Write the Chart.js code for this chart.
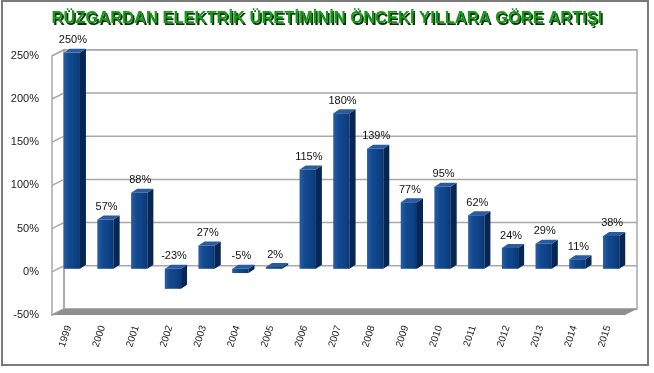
<!DOCTYPE html>
<html>
<head>
<meta charset="utf-8">
<script src="https://cdn.jsdelivr.net/npm/chart.js@4.4.1/dist/chart.umd.min.js"></script>
<style>
  html, body { margin: 0; padding: 0; background: #fff; }
  #wrap { width: 654px; height: 373px; position: relative; }
</style>
</head>
<body>
<div id="wrap"><canvas id="ruzgar" width="654" height="373"></canvas></div>
<script>

var years = ["1999", "2000", "2001", "2002", "2003", "2004", "2005", "2006", "2007",
	"2008", "2009", "2010", "2011", "2012", "2013", "2014", "2015"];
var artis = [250, 57, 88, -23, 27, -5, 2, 115, 180, 139, 77, 95, 62, 24, 29, 11, 38];
var yMin = -50, yMax = 250, yStep = 50;
var baslik = "RÜZGARDAN ELEKTRİK ÜRETİMİNİN ÖNCEKİ YILLARA GÖRE ARTIŞI";
var baslikFont = 'bold 16.5px "Liberation Sans", Arial, sans-serif';

// walls, floor and grid of the 3d look
var duvar = {
	id: 'duvar',
	beforeDraw: function(chart){
		var c = chart.ctx;
		c.save();
		// frame round the picture
		c.strokeStyle = '#7a7a7a';
		c.lineWidth = 2;
		c.strokeRect(2, 1, 646, 364);
		// shadow of the title
		var tb = chart.titleBlock;
		if (tb) {
			c.font = baslikFont;
			c.textAlign = 'center';
			c.textBaseline = 'middle';
			c.fillStyle = '#0a330a';
			c.fillText(baslik, (tb.left + tb.right) / 2 + 1.5, tb.top + 9 + 9.9 + 1.5);
		}
		c.restore();
	},
	beforeDatasetsDraw: function(chart){
		var c = chart.ctx, a = chart.chartArea, y = chart.scales.y;
		var L = a.left, R = a.right;
		var top = y.getPixelForValue(yMax), bot = y.getPixelForValue(yMin);
		c.save();
		// left wall
		c.fillStyle = '#ffffff';
		c.strokeStyle = '#a8a8a8';
		c.lineWidth = 1.5;
		c.beginPath();
		c.moveTo(L - 3, top + 3); c.lineTo(L + 9, top - 3);
		c.lineTo(L + 9, bot - 3); c.lineTo(L - 3, bot + 3);
		c.closePath();
		c.fill(); c.stroke();
		// back wall
		c.strokeRect(L + 9, top - 3, R - L, bot - top);
		// grid lines
		for (var v = yMin; v <= yMax; v += yStep) {
			var p = y.getPixelForValue(v);
			c.beginPath();
			c.moveTo(L - 3, p + 3);
			c.lineTo(L + 9, p - 3);
			c.lineTo(R + 9, p - 3);
			c.stroke();
		}
		// floor
		c.fillStyle = '#8f8f8f';
		c.beginPath();
		c.moveTo(L - 3, bot + 3); c.lineTo(R - 3, bot + 3);
		c.lineTo(R + 9, bot - 3); c.lineTo(L + 9, bot - 3);
		c.closePath();
		c.fill();
		c.restore();
	},
	afterDatasetsDraw: function(chart){
		var c = chart.ctx;
		var meta = chart.getDatasetMeta(0);
		var dx = 6, dy = 4;
		c.save();
		meta.data.forEach(function(bar, i){
			var w = bar.width;
			var l = bar.x - w / 2, r = bar.x + w / 2;
			var t = Math.min(bar.y, bar.base), b = Math.max(bar.y, bar.base);
			// light on the front face
			var g = c.createLinearGradient(l, 0, r, 0);
			g.addColorStop(0, 'rgba(70,120,190,0.5)');
			g.addColorStop(0.35, 'rgba(70,120,190,0.1)');
			g.addColorStop(1, 'rgba(0,20,60,0.25)');
			c.fillStyle = g;
			c.fillRect(l, t, w, b - t);
			// side face
			c.fillStyle = '#062654';
			c.beginPath();
			c.moveTo(r, t); c.lineTo(r + dx, t - dy);
			c.lineTo(r + dx, b - dy); c.lineTo(r, b);
			c.closePath(); c.fill();
			// top face
			c.fillStyle = '#2a5b9f';
			c.beginPath();
			c.moveTo(l, t); c.lineTo(r, t);
			c.lineTo(r + dx, t - dy); c.lineTo(l + dx, t - dy);
			c.closePath(); c.fill();
			// value
			c.fillStyle = '#111';
			c.font = '11px "Liberation Sans", Arial, sans-serif';
			c.textAlign = 'center';
			c.textBaseline = 'bottom';
			c.fillText(artis[i] + '%', bar.x + 1, t - dy - 3);
		});
		c.restore();
	}
};

var chart_ruzgar = new Chart(document.getElementById('ruzgar'), {
	type: 'bar',
	data: {
		labels: years,
		datasets: [{
			data: artis,
			backgroundColor: '#0b4288',
			borderWidth: 0,
			barPercentage: 0.48,
			categoryPercentage: 1
		}]
	},
	options: {
		responsive: false,
		animation: false,
		layout: { padding: 0 },
		plugins: {
			legend: { display: false },
			tooltip: { enabled: false },
			title: {
				display: true,
				text: baslik,
				color: '#179a17',
				font: { size: 16.5, weight: 'bold', family: '"Liberation Sans", Arial, sans-serif' },
				padding: { top: 9, bottom: 24 }
			}
		},
		scales: {
			y: {
				min: yMin,
				max: yMax,
				afterFit: function(s){ s.width = 55; },
				grid: { display: false, drawTicks: false },
				border: { display: false },
				ticks: {
					stepSize: yStep,
					padding: 16,
					labelOffset: 3,
					color: '#222',
					font: { size: 11, family: '"Liberation Sans", Arial, sans-serif' },
					callback: function(v){ return v + '%'; }
				}
			},
			// empty axis on the right, only to keep room for the back wall
			bos: {
				position: 'right',
				afterFit: function(s){ s.width = 26; },
				grid: { display: false, drawTicks: false },
				border: { display: false },
				ticks: { display: false }
			},
			x: {
				afterFit: function(s){ s.height = 61; },
				grid: { display: false, drawTicks: false },
				border: { display: false },
				ticks: {
					autoSkip: false,
					minRotation: 72,
					maxRotation: 72,
					padding: 12,
					labelOffset: -3,
					color: '#222',
					font: { size: 10, family: '"Liberation Sans", Arial, sans-serif' }
				}
			}
		}
	},
	plugins: [duvar]
});
</script>
</body>
</html>
